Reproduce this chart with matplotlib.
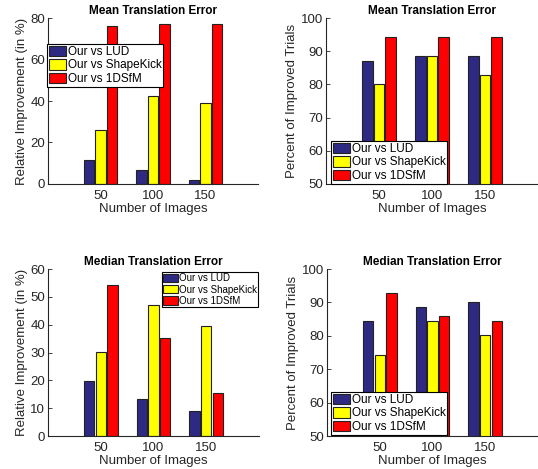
import numpy as np
import matplotlib.pyplot as plt

plt.rcParams['font.family'] = ['Liberation Sans', 'DejaVu Sans']

images = [50, 100, 150]
labels = ['Our vs LUD', 'Our vs ShapeKick', 'Our vs 1DSfM']
colors = ['#2E2A83', '#FFFF00', '#FF0000']

# mean translation error: relative improvement (in %)
mean_rel_lud = [11.6, 6.7, 1.9]
mean_rel_shape = [26.0, 42.3, 38.9]
mean_rel_1dsfm = [76.0, 77.1, 77.1]
# mean translation error: percent of improved trials
mean_pct_lud = [87.0, 88.5, 88.5]
mean_pct_shape = [80.0, 88.5, 82.7]
mean_pct_1dsfm = [94.3, 94.3, 94.3]
# median translation error: relative improvement (in %)
med_rel_lud = [19.7, 13.2, 8.9]
med_rel_shape = [30.1, 47.0, 39.6]
med_rel_1dsfm = [54.2, 35.2, 15.4]
# median translation error: percent of improved trials
med_pct_lud = [84.3, 88.6, 90.0]
med_pct_shape = [74.4, 84.3, 80.1]
med_pct_1dsfm = [92.8, 85.8, 84.3]

txt = '#262626'
W, H = 538, 469
fig = plt.figure(figsize=(W / 100, H / 100), dpi=100)


def panel(rect, series, title, ylabel, ylim, yticks, leg_xy, leg_fs):
    l, t, r, b = rect
    ax = fig.add_axes([l / W, 1 - b / H, (r - l) / W, (b - t) / H])
    x = np.array(images, dtype=float)
    for i, (vals, c, lab) in enumerate(zip(series, colors, labels)):
        ax.bar(x + (i - 1) * 11, vals, width=9.8,
               color=c, edgecolor='#222222', linewidth=0.8, label=lab)
    ax.set_xlim(0, 200)
    ax.set_ylim(*ylim)
    ax.set_xticks(images)
    ax.set_yticks(yticks)
    for s in ['top', 'right']:
        ax.spines[s].set_visible(False)
    for s in ['left', 'bottom']:
        ax.spines[s].set_color(txt)
        ax.spines[s].set_linewidth(0.8)
    ax.tick_params(axis='y', direction='in', length=3, width=0.6, colors=txt,
                   labelsize=9.5, pad=2)
    ax.tick_params(axis='x', length=0, colors=txt, labelsize=9.5, pad=4)
    ax.set_title(title, fontsize=8.5, fontweight='bold', color='black', pad=3)
    ax.set_ylabel(ylabel, fontsize=9.5, color=txt, labelpad=2)
    ax.set_xlabel('Number of Images', fontsize=9.5, color=txt, labelpad=1)
    leg = ax.legend(loc='upper left', bbox_to_anchor=(leg_xy[0] / W, 1 - leg_xy[1] / H),
                    bbox_transform=fig.transFigure, fontsize=leg_fs, frameon=True,
                    fancybox=False, edgecolor='black', framealpha=1,
                    borderpad=0.15, labelspacing=0.12, handlelength=1.45,
                    handleheight=0.95, handletextpad=0.15, borderaxespad=0)
    leg.get_frame().set_linewidth(0.8)
    for t_ in leg.get_texts():
        t_.set_color('black')
    return ax


panel((48, 18, 258, 184), [mean_rel_lud, mean_rel_shape, mean_rel_1dsfm],
      'Mean Translation Error', 'Relative Improvement (in %)', (0, 80),
      [0, 20, 40, 60, 80], (47, 44), 8.5)
panel((326, 18, 538, 184), [mean_pct_lud, mean_pct_shape, mean_pct_1dsfm],
      'Mean Translation Error', 'Percent of Improved Trials', (50, 100),
      [50, 60, 70, 80, 90, 100], (331, 141), 8.5)
panel((48, 269, 259, 436), [med_rel_lud, med_rel_shape, med_rel_1dsfm],
      'Median Translation Error', 'Relative Improvement (in %)', (0, 60),
      [0, 10, 20, 30, 40, 50, 60], (162, 272), 7.0)
panel((327, 269, 538, 436), [med_pct_lud, med_pct_shape, med_pct_1dsfm],
      'Median Translation Error', 'Percent of Improved Trials', (50, 100),
      [50, 60, 70, 80, 90, 100], (331, 392), 8.5)

fig.savefig('out.png', dpi=100)
